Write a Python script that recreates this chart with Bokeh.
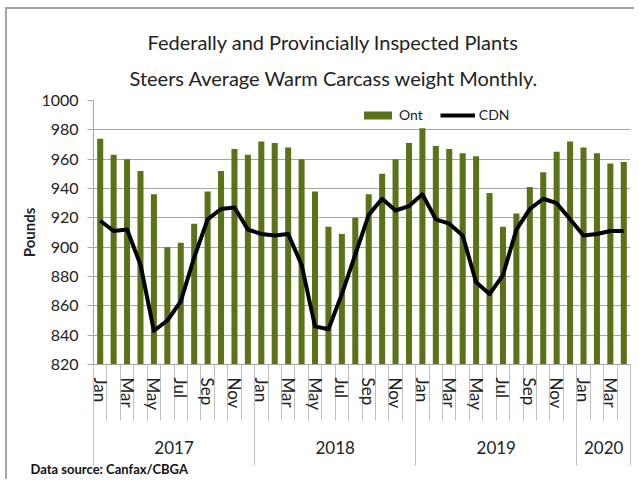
from bokeh.plotting import figure
from bokeh.models import (Range1d, FixedTicker, LinearAxis, Title, Legend,
                          LegendItem, ColumnDataSource)
from bokeh.embed import file_html
from bokeh.resources import INLINE

# ---------------- data ----------------
years = ["2017", "2018", "2019", "2020"]
months_per_year = [12, 12, 12, 4]
month_names = ["Jan", "Feb", "Mar", "Apr", "May", "Jun",
               "Jul", "Aug", "Sep", "Oct", "Nov", "Dec"]

ont = [974, 963, 960, 952, 936, 900, 903, 916, 938, 952, 967, 963,
       972, 971, 968, 960, 938, 914, 909, 920, 936, 950, 960, 971,
       981, 969, 967, 964, 962, 937, 914, 923, 941, 951, 965, 972,
       968, 964, 957, 958]
cdn = [918, 911, 912, 888, 843, 850, 863, 893, 919, 926, 927, 912,
       909, 908, 909, 888, 846, 844, 868, 895, 922, 933, 925, 928,
       936, 919, 916, 908, 876, 868, 881, 912, 926, 933, 930, 919,
       908, 909, 911, 911]

title_lines = ["Federally and Provincially Inspected Plants",
               "Steers Average Warm Carcass weight Monthly."]
y_label = "Pounds"
source_note = "Data source: Canfax/CBGA"
y_ticks = [820, 840, 860, 880, 900, 920, 940, 960, 980, 1000]

# ---------------- derived ----------------
GREEN = "#5a7318"
FONT = "Lato"
TXT = "#222222"
n = len(ont)
xs = [i + 0.5 for i in range(n)]
mlabels = [month_names[i % 12] for i in range(n)]
src = ColumnDataSource(dict(x=xs, ont=ont, cdn=cdn))

bounds = [0]
for m in months_per_year:
    bounds.append(bounds[-1] + m)
year_centers = [(bounds[i] + bounds[i + 1]) / 2 for i in range(len(years))]

p = figure(frame_width=537, frame_height=264,
           min_border_left=86, min_border_right=4,
           min_border_top=91, min_border_bottom=112,
           x_range=Range1d(0, n), y_range=Range1d(y_ticks[0], y_ticks[-1]),
           x_axis_type=None, output_backend="svg", toolbar_location=None)
p.outline_line_color = None
p.styles = {"margin-left": "5px", "margin-top": "7px",
            "border-left": "2px solid #a6a6a6", "border-top": "2px solid #a6a6a6"}

# y axis
yt = FixedTicker(ticks=y_ticks)
p.yaxis.ticker = yt
p.ygrid.ticker = yt
p.ygrid.grid_line_color = "#a6a6a6"
p.yaxis.axis_line_color = "#a6a6a6"
p.yaxis.major_tick_line_color = "#a6a6a6"
p.yaxis.major_tick_out = 6
p.yaxis.major_tick_in = 0
p.yaxis.minor_tick_line_color = None
p.yaxis.major_label_text_font = FONT
p.yaxis.major_label_text_font_size = "16px"
p.yaxis.major_label_text_color = TXT
p.yaxis.major_label_standoff = 9
p.yaxis.axis_label = y_label
p.yaxis.axis_label_text_font = FONT
p.yaxis.axis_label_text_font_size = "15px"
p.yaxis.axis_label_text_font_style = "bold"
p.yaxis.axis_label_text_color = TXT
p.yaxis.axis_label_standoff = 0

# month axis
ax1 = LinearAxis(ticker=FixedTicker(ticks=xs[::2], minor_ticks=list(range(n + 1))),
                 major_label_overrides={x: m for x, m in zip(xs[::2], mlabels[::2])},
                 major_label_orientation="vertical",
                 major_tick_out=0, major_tick_in=0,
                 minor_tick_out=56, minor_tick_in=0,
                 minor_tick_line_color="#bfbfbf",
                 axis_line_color="#a6a6a6",
                 major_label_standoff=13 - 56,
                 major_label_text_font=FONT,
                 major_label_text_font_size="17px",
                 major_label_text_color=TXT)
p.add_layout(ax1, "below")

# year axis
ax2 = LinearAxis(ticker=FixedTicker(ticks=year_centers, minor_ticks=bounds),
                 major_label_overrides={c: y for c, y in zip(year_centers, years)},
                 major_tick_out=0, major_tick_in=0,
                 minor_tick_out=52, minor_tick_in=45,
                 minor_tick_line_color="#bfbfbf",
                 axis_line_color=None,
                 major_label_standoff=27 - 52,
                 major_label_text_font=FONT,
                 major_label_text_font_size="17px",
                 major_label_text_color=TXT)
p.add_layout(ax2, "below")

bars = p.vbar(x="x", top="ont", bottom=y_ticks[0], width=0.45, source=src,
              fill_color=GREEN, line_color=None)
ln = p.line(x="x", y="cdn", source=src, line_color="black", line_width=4,
            line_join="round")

legend = Legend(items=[LegendItem(label="Ont", renderers=[bars]),
                       LegendItem(label="CDN", renderers=[ln])],
                orientation="horizontal", location=(267, 241),
                glyph_width=35, glyph_height=10, label_standoff=4, spacing=17,
                padding=0, margin=0, border_line_color=None,
                background_fill_alpha=0, label_height=16,
                label_text_font=FONT, label_text_font_size="14px",
                label_text_color=TXT)
p.add_layout(legend, "center")

# titles (first added sits closest to the frame)
p.add_layout(Title(text=title_lines[1], align="left", offset=36, standoff=21,
                   text_font=FONT, text_font_size="20px", text_font_style="normal",
                   text_color=TXT), "above")
p.add_layout(Title(text=title_lines[0], align="left", offset=54, standoff=-1,
                   text_font=FONT, text_font_size="20px", text_font_style="normal",
                   text_color=TXT), "above")

p.add_layout(Title(text=source_note, align="left", offset=-63, standoff=5,
                   text_font=FONT, text_font_size="13px", text_font_style="bold",
                   text_color="#111111"), "below")

open("out.html", "w").write(file_html(p, INLINE))
